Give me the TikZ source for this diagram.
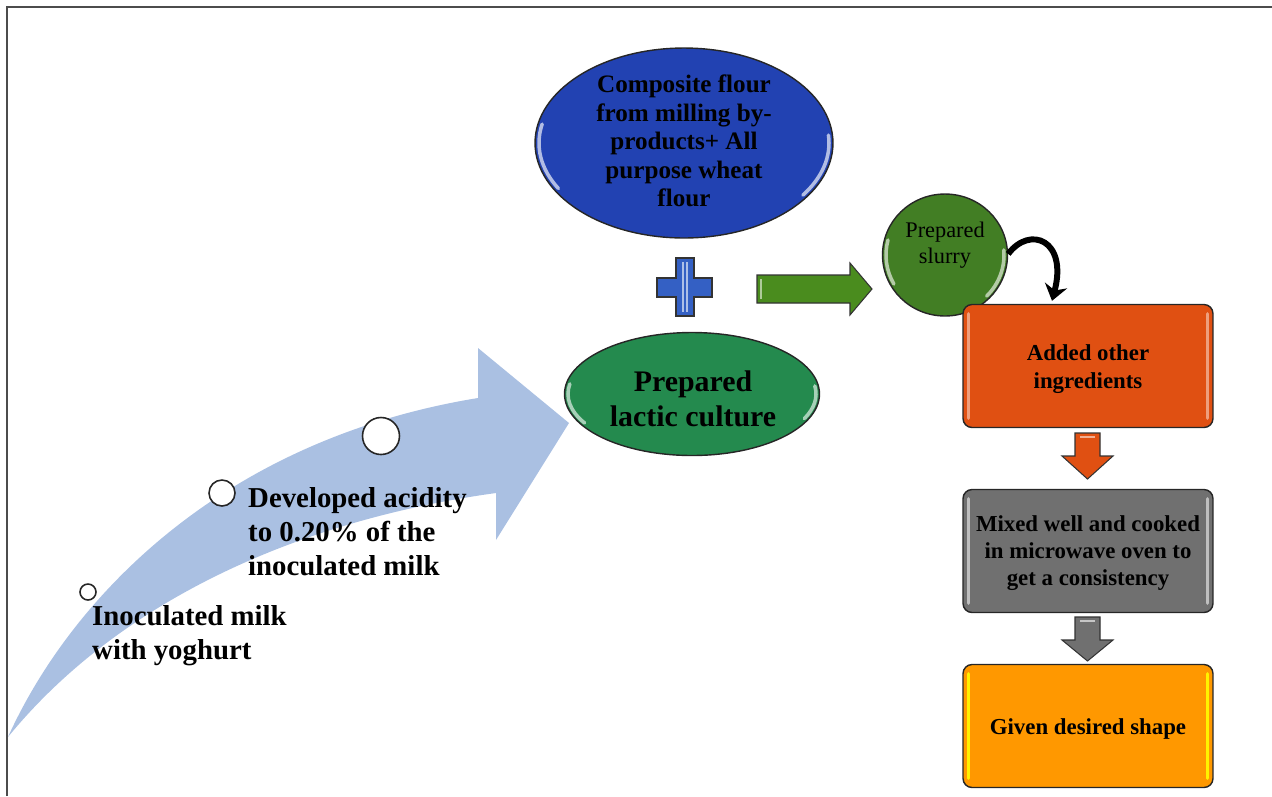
\documentclass[tikz,border=0pt]{standalone}
\usepackage{fontspec}
\setmainfont{Liberation Serif}
\usetikzlibrary{shapes.geometric,arrows.meta,calc}
\definecolor{arrowblue}{RGB}{170,192,226}
\definecolor{flourblue}{RGB}{34,66,178}
\definecolor{culturegreen}{RGB}{36,138,78}
\definecolor{slurrygreen}{RGB}{66,126,36}
\definecolor{arrowgreen}{RGB}{74,140,30}
\definecolor{boxorange}{RGB}{224,80,18}
\definecolor{boxgray}{RGB}{112,112,112}
\definecolor{boxyellow}{RGB}{255,152,0}
\definecolor{plusblue}{RGB}{52,96,196}
\tikzset{
  frameline/.style={line width=0.9pt, draw=black!70},
  dot/.style={circle, draw=black!85, fill=white, line width=0.9pt, inner sep=0pt},
  blob/.style={ellipse, draw=black!85, line width=0.8pt, inner sep=0pt},
  stepbox/.style={rectangle, rounded corners=0.18cm, draw=black!85, line width=0.8pt,
    minimum width=5cm, minimum height=2.46cm, inner sep=0pt},
  boxtext/.style={align=center, font=\fontsize{13}{15.6}\selectfont\bfseries},
  lefttext/.style={align=left, anchor=west, font=\fontsize{16.4}{19.4}\selectfont\bfseries},
  hilite/.style={line width=2pt, line cap=round},
}
\begin{document}
\begin{tikzpicture}[x=0.02cm, y=-0.02cm]
\useasboundingbox (0,0) rectangle (1272,796);
\draw[frameline] (7,796) -- (7,7) -- (1272,7);

% big curved arrow
\fill[arrowblue] (8,737) .. controls (70,600) and (220,440) .. (478,398)
  -- (478,348) -- (569,423) -- (496,540) -- (496,493)
  .. controls (300,520) and (120,600) .. (8,737) -- cycle;

\node[dot, minimum size=0.32cm] (d1) at (88,592) {};
\node[dot, minimum size=0.52cm] (d2) at (222,493) {};
\node[dot, minimum size=0.74cm] (d3) at (381,436) {};

\node[lefttext] (t1) at (86,636) {Inoculated milk\\with yoghurt};
\node[lefttext] (t2) at (242,532) {Developed acidity\\to 0.20\% of the\\inoculated milk};

% flour ellipse
\node[blob, fill=flourblue, minimum width=5.96cm, minimum height=3.8cm] (flour) at (684,143) {};
\draw[white!65!flourblue, hilite] ($(flour.center)+(192:145 and 91)$) arc (192:150:145 and 91);
\draw[white!65!flourblue, hilite] ($(flour.center)+(-5:145 and 91)$) arc (-5:35:145 and 91);
\node[align=center, font=\fontsize{14.3}{16.2}\selectfont\bfseries] (flourtext) at (684,141) {Composite flour\\from milling by-\\products+ All\\purpose wheat\\flour};

% plus sign
\fill[plusblue, draw=black!80, line width=0.6pt]
  (676,258) -- (694,258) -- (694,278) -- (712,278) -- (712,297) -- (694,297)
  -- (694,316) -- (676,316) -- (676,297) -- (657,297) -- (657,278) -- (676,278) -- cycle;
\draw[white!60!plusblue, line width=1pt] (683,262) -- (683,312) (687,262) -- (687,312);
\node[inner sep=0pt] (plus) at (685,287) {};

% culture ellipse
\node[blob, fill=culturegreen, minimum width=5.1cm, minimum height=2.46cm] (culture) at (692,394) {};
\draw[white!60!culturegreen, hilite] ($(culture.center)+(190:124 and 58)$) arc (190:150:124 and 58);
\draw[white!60!culturegreen, hilite] ($(culture.center)+(-8:124 and 58)$) arc (-8:25:124 and 58);
\node[align=center, font=\fontsize{17}{19.6}\selectfont\bfseries] (culturetext) at (693,399) {Prepared\\lactic culture};

% slurry circle
\node[blob, fill=slurrygreen, minimum width=2.5cm, minimum height=2.44cm] (slurry) at (945,255) {};
\draw[white!60!slurrygreen, hilite] ($(slurry.center)+(-5:59 and 58)$) arc (-5:45:59 and 58);
\draw[white!60!slurrygreen, hilite] ($(slurry.center)+(195:59 and 58)$) arc (195:150:59 and 58);
\node[align=center, font=\fontsize{12.7}{14.8}\selectfont] (slurrytext) at (945,245) {Prepared\\slurry};

% green block arrow
\fill[arrowgreen, draw=black!80, line width=0.6pt]
  (757,275) -- (850,275) -- (850,263) -- (872,289) -- (850,315) -- (850,303) -- (757,303) -- cycle;
\draw[white!55!arrowgreen, line width=1.4pt] (761,279) -- (761,299);

% boxes
\node[stepbox, fill=boxorange] (b1) at (1088,366) {};
\node[stepbox, fill=boxgray] (b2) at (1088,551) {};
\node[stepbox, fill=boxyellow] (b3) at (1088,726) {};
\foreach \b/\c in {b1/white!45!boxorange, b2/white!55!boxgray, b3/yellow} {
  \draw[\c, hilite] ([shift={(6,10)}]\b.north west) -- ([shift={(6,-10)}]\b.south west);
  \draw[\c, hilite] ([shift={(-6,10)}]\b.north east) -- ([shift={(-6,-10)}]\b.south east);
}
\node[boxtext] (b1t) at (1088,369) {Added other\\ingredients};
\node[boxtext] (b2t) at (1088,553) {Mixed well and cooked\\in microwave oven to\\get a consistency};
\node[boxtext] (b3t) at (1088,729) {Given desired shape};

% curved black arrow
\draw[line width=3.4pt, -{Stealth[length=9pt,width=13pt]}]
  (slurry.1) .. controls (1030,225) and (1068,240) .. ($(b1.north)+(-36,-3)$);

% down block arrows
\fill[boxorange, draw=black!80, line width=0.6pt]
  (1075,433) -- (1100,433) -- (1100,456) -- (1113,456) -- (1087.5,479) -- (1062,456) -- (1075,456) -- cycle;
\draw[white!55!boxorange, line width=1.4pt] (1080,437) -- (1095,437);
\fill[boxgray, draw=black!80, line width=0.6pt]
  (1075,617) -- (1100,617) -- (1100,640) -- (1113,640) -- (1087.5,661) -- (1062,640) -- (1075,640) -- cycle;
\draw[white!60!boxgray, line width=1.4pt] (1080,621) -- (1095,621);
\end{tikzpicture}
\end{document}
